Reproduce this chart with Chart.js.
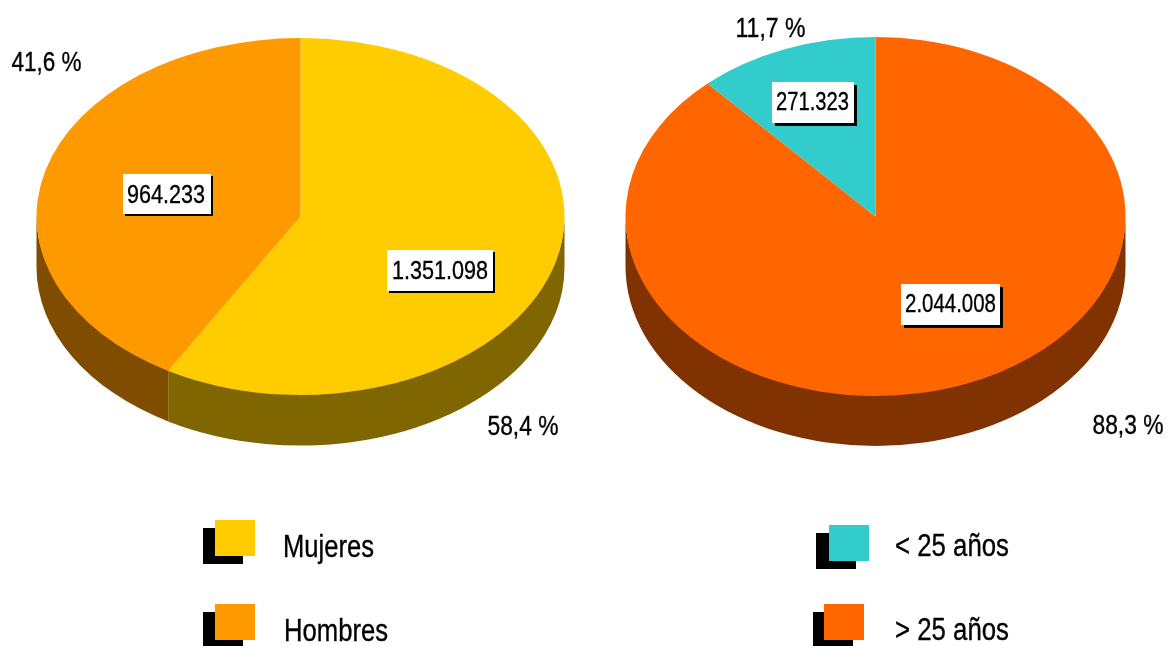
<!DOCTYPE html>
<html>
<head>
<meta charset="utf-8">
<title>Mujeres y hombres, menores y mayores de 25 años</title>
<script src="https://cdn.jsdelivr.net/npm/chart.js@4"></script>
<style>
  html, body { margin: 0; padding: 0; background: #fff; }
  body { width: 1169px; height: 646px; position: relative; overflow: hidden; }
  canvas { position: absolute; left: 0; top: 0; }
</style>
</head>
<body>
<canvas id="pieSexo" width="1169" height="646"></canvas>
<canvas id="pieEdad" width="1169" height="646"></canvas>
<script>
// datos
const sexoLabels = ['Mujeres', 'Hombres']
const sexoValues = [1351098, 964233]
const sexoTextos = ['1.351.098', '964.233']
const sexoPct = ['58,4 %', '41,6 %']
const sexoColors = ['#FFCC00', '#FF9900']
const sexoSides = ['#806600', '#804D00']

const edadLabels = ['> 25 años', '< 25 años']
const edadValues = [2044008, 271323]
const edadTextos = ['2.044.008', '271.323']
const edadPct = ['88,3 %', '11,7 %']
const edadColors = ['#FF6600', '#33CCCC']
const edadSides = ['#803300', '#1A6666']

const W = 1169, H = 646
const FONT = '"Liberation Sans", Arial, sans-serif'

// no hay fuente estrecha: se comprime con maxWidth y un trazo fino da el peso
function texto(ctx, t, x, y, size, ancho) {
    ctx.font = size + 'px ' + FONT
    ctx.fillStyle = '#000'
    ctx.strokeStyle = '#000'
    ctx.lineWidth = 0.35
    ctx.fillText(t, x, y, ancho)
    ctx.strokeText(t, x, y, ancho)
}

// aplasta el pie a una elipse y le pone el canto oscuro
const pie3d = {
    id: 'pie3d',
    beforeDatasetsDraw(chart, args, o) {
        const ctx = chart.ctx
        const arcs = chart.getDatasetMeta(0).data
        const r = arcs[0].outerRadius
        const k = o.ry / r
        ctx.save()
        ctx.translate(0, o.cy)
        ctx.scale(1, k)
        ctx.translate(0, -arcs[0].y)
        arcs.forEach((a, i) => {
            // solo se ve la mitad de abajo
            const lo = Math.max(a.startAngle, 0)
            const hi = Math.min(a.endAngle, Math.PI)
            if (hi <= lo) return
            ctx.fillStyle = o.sides[i]
            ctx.beginPath()
            ctx.arc(a.x, a.y - 2, r, lo, hi)
            ctx.arc(a.x, a.y + o.depth / k, r, hi, lo, true)
            ctx.closePath()
            ctx.fill()
        })
    },
    afterDatasetsDraw(chart) {
        chart.ctx.restore()
    },
    afterDraw(chart, args, o) {
        const ctx = chart.ctx
        ctx.save()
        ctx.textBaseline = 'alphabetic'
        // porcentajes
        o.pct.forEach((t, i) => {
            const p = o.pctPos[i]
            texto(ctx, t, p[0], p[1], 27, p[2])
        })
        // cajas con el valor
        o.boxes.forEach((b, i) => {
            ctx.fillStyle = '#000'
            ctx.fillRect(b.x + b.off, b.y + b.off, b.w, b.h)
            ctx.fillStyle = '#fff'
            ctx.fillRect(b.x, b.y, b.w, b.h)
            texto(ctx, o.textos[i], b.tx, b.ty, 26, b.tw)
        })
        // leyenda
        o.legend.forEach(l => {
            const i = chart.data.labels.indexOf(l.label)
            ctx.fillStyle = '#000'
            ctx.fillRect(l.sx, l.sy, 40, 36)
            ctx.fillStyle = o.colors[i]
            ctx.fillRect(l.x, l.y, 40, 36)
            texto(ctx, l.label, l.tx, l.ty, 31, l.tw)
        })
        ctx.restore()
    }
}

function hacerPie(id, labels, values, colors, o) {
    return new Chart(document.getElementById(id).getContext('2d'), {
        type: 'pie',
        data: {
            labels: labels,
            datasets: [{ data: values, backgroundColor: colors, borderWidth: 0 }]
        },
        options: {
            responsive: false,
            animation: false,
            events: [],
            layout: {
                padding: { left: o.cx - o.rx, right: W - o.cx - o.rx, top: 0, bottom: H - 2 * o.rx }
            },
            plugins: {
                legend: { display: false },
                tooltip: { enabled: false },
                pie3d: o
            }
        },
        plugins: [pie3d]
    })
}

hacerPie('pieSexo', sexoLabels, sexoValues, sexoColors, {
    cx: 300.5, cy: 216.5, rx: 264, ry: 178.5, depth: 50.5,
    sides: sexoSides, colors: sexoColors, pct: sexoPct, textos: sexoTextos,
    pctPos: [[487.5, 435, 71], [11.5, 71, 70]],
    boxes: [
        { x: 387, y: 250, w: 106, h: 41, off: 2, tx: 392, ty: 279, tw: 96 },
        { x: 123, y: 174, w: 88, h: 40, off: 2, tx: 127, ty: 203, tw: 78 }
    ],
    legend: [
        { label: 'Mujeres', x: 215, y: 520, sx: 203, sy: 528, tx: 283, ty: 557, tw: 91 },
        { label: 'Hombres', x: 215, y: 604, sx: 203, sy: 612, tx: 284, ty: 641, tw: 104 }
    ]
})

hacerPie('pieEdad', edadLabels, edadValues, edadColors, {
    cx: 875.5, cy: 216.5, rx: 250, ry: 179.5, depth: 50,
    sides: edadSides, colors: edadColors, pct: edadPct, textos: edadTextos,
    pctPos: [[1092.5, 434, 71], [735.5, 37, 70]],
    boxes: [
        { x: 901, y: 284, w: 99, h: 41, off: 3, tx: 905, ty: 312, tw: 91 },
        { x: 772, y: 82, w: 82, h: 41, off: 3, tx: 776, ty: 110, tw: 73 }
    ],
    legend: [
        { label: '< 25 años', x: 829, y: 525, sx: 816, sy: 533, tx: 895, ty: 556, tw: 114 },
        { label: '> 25 años', x: 824, y: 604, sx: 813, sy: 612, tx: 895, ty: 640, tw: 114 }
    ]
})
</script>
</body>
</html>
